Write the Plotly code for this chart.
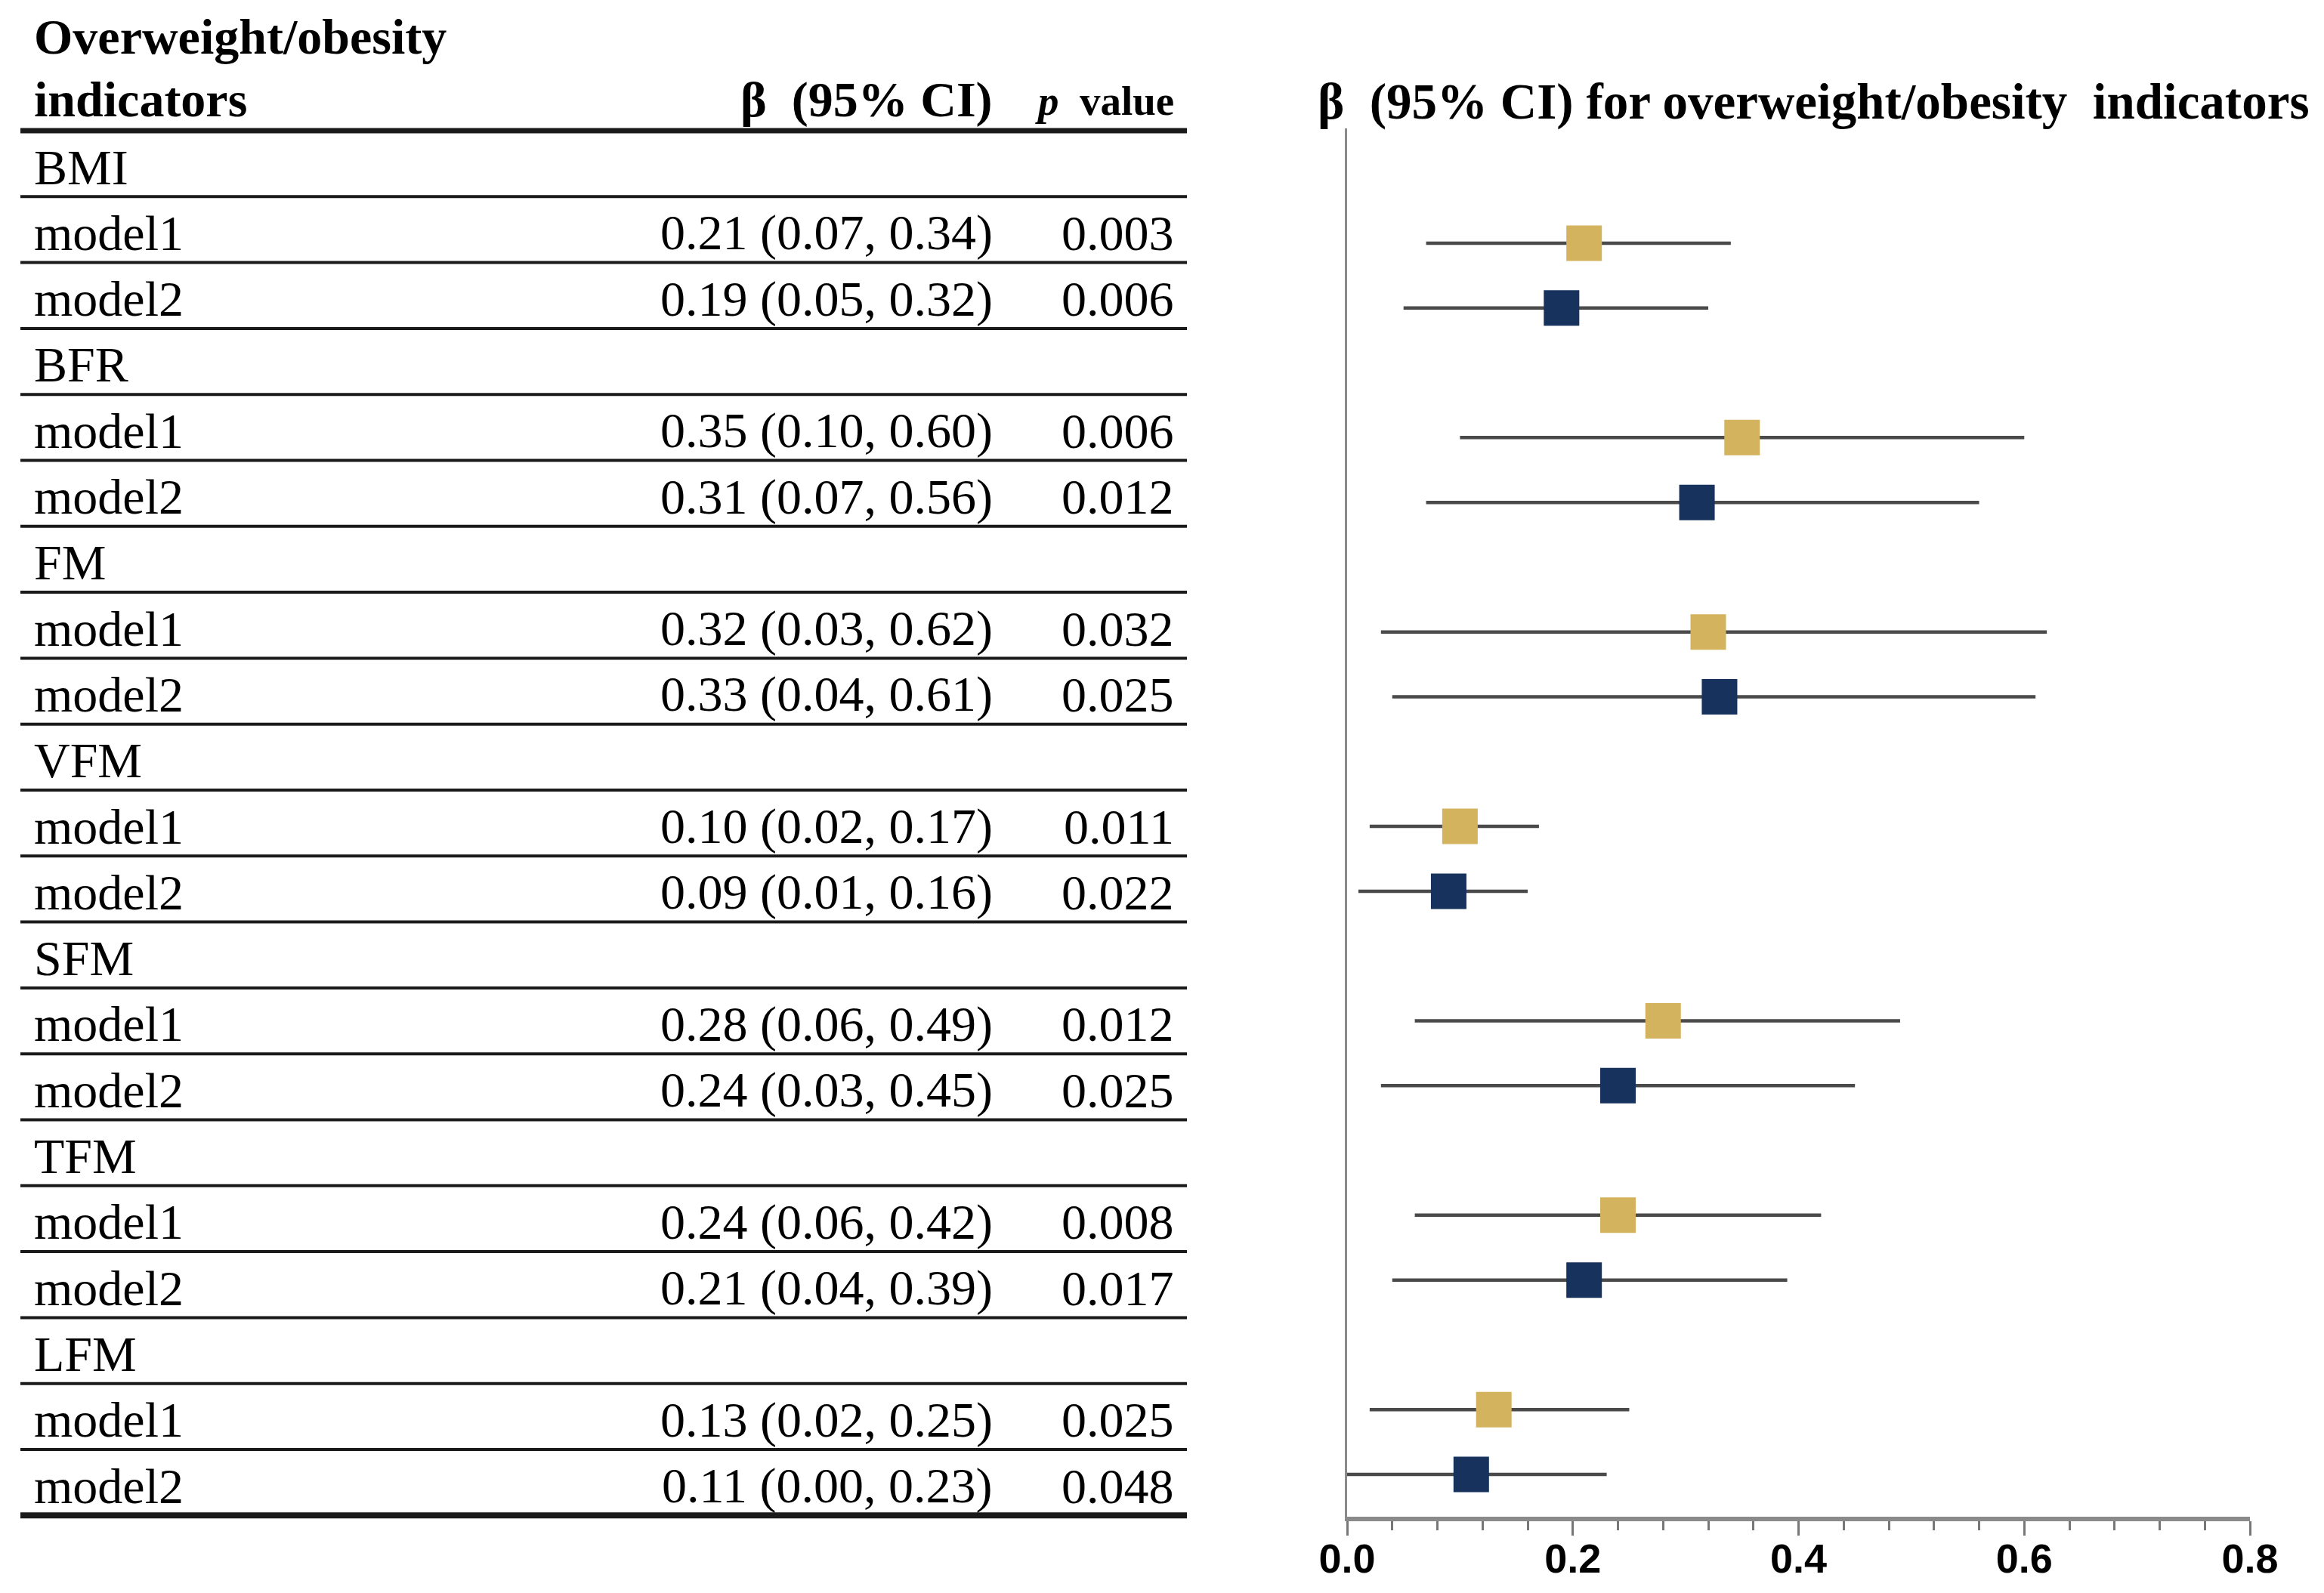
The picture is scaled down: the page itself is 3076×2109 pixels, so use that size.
import plotly.graph_objects as go

# ---------------- data ----------------
groups = ["BMI", "BFR", "FM", "VFM", "SFM", "TFM", "LFM"]
beta_m1 = [0.21, 0.35, 0.32, 0.10, 0.28, 0.24, 0.13]
lo_m1 = [0.07, 0.10, 0.03, 0.02, 0.06, 0.06, 0.02]
hi_m1 = [0.34, 0.60, 0.62, 0.17, 0.49, 0.42, 0.25]
p_m1 = ["0.003", "0.006", "0.032", "0.011", "0.012", "0.008", "0.025"]
beta_m2 = [0.19, 0.31, 0.33, 0.09, 0.24, 0.21, 0.11]
lo_m2 = [0.05, 0.07, 0.04, 0.01, 0.03, 0.04, 0.00]
hi_m2 = [0.32, 0.56, 0.61, 0.16, 0.45, 0.39, 0.23]
p_m2 = ["0.006", "0.012", "0.025", "0.022", "0.025", "0.017", "0.048"]
model_names = ["model1", "model2"]
x_ticks = [0.0, 0.2, 0.4, 0.6, 0.8]

# ---------------- layout constants ----------------
W, H = 3076, 2109
OFF = 8  # page body margin compensation
SERIF = "Liberation Serif, Times New Roman, serif"
SANS = "Liberation Sans Narrow, Liberation Sans, Arial, sans-serif"
FS = 66
C1 = "#D4B35E"
C2 = "#17325C"
CI_COL = "#4a4a4a"

# forest axis pixel geometry (target page pixels)
fx0, fx1 = 1783 - OFF, 2978 - OFF
fy_top, fy_bot = 170 - OFF, 2008 - OFF
row1_px, row20_px = 322 - OFF, 1952 - OFF
rstep = (row20_px - row1_px) / 19.0
r_top = 1 + (fy_top - row1_px) / rstep
r_bot = 1 + (fy_bot - row1_px) / rstep

# table geometry (rows in row units)
t_head_px, t_row = 173 - OFF, 87.3
t_r0 = -0.5 - t_head_px / t_row
t_r1 = -0.5 + (H - t_head_px) / t_row
col_label, col_beta, col_p = 43, 1316, 1556
t_left, t_right = 27, 1571
TXT_DY = 0.05  # text sits slightly below the row centre

rows_m1 = [3 * g + 1 for g in range(len(groups))]
rows_m2 = [3 * g + 2 for g in range(len(groups))]

fig = go.Figure()

for name, beta, lo, hi, rows, col in [
    (model_names[0], beta_m1, lo_m1, hi_m1, rows_m1, C1),
    (model_names[1], beta_m2, lo_m2, hi_m2, rows_m2, C2),
]:
    fig.add_trace(go.Scatter(
        x=beta, y=rows, mode="markers", name=name,
        marker=dict(symbol="square", size=47, color=col, line=dict(width=0)),
        error_x=dict(type="data", symmetric=False,
                     array=[h - b for h, b in zip(hi, beta)],
                     arrayminus=[b - l for b, l in zip(beta, lo)],
                     color=CI_COL, thickness=4.5, width=0),
        showlegend=False, xaxis="x", yaxis="y",
    ))

# ---------------- table ----------------
ann = []
shapes = []

def cell(x, r, text, anchor, bold=False, size=FS):
    ann.append(dict(x=x, y=r, xref="x2", yref="y2", text=text, showarrow=False,
                    xanchor=anchor, yanchor="middle",
                    font=dict(family=SERIF, size=size, color="black",
                              weight="bold" if bold else "normal")))

for g, grp in enumerate(groups):
    cell(col_label, 3 * g + TXT_DY, grp, "left")
    for k, (beta, lo, hi, pv) in enumerate([(beta_m1, lo_m1, hi_m1, p_m1),
                                            (beta_m2, lo_m2, hi_m2, p_m2)]):
        r = 3 * g + 1 + k + TXT_DY
        cell(col_label, r, model_names[k], "left")
        cell(col_beta, r, f"{beta[g]:.2f} ({lo[g]:.2f}, {hi[g]:.2f})", "right")
        cell(col_p, r, pv[g], "right")

# header rows (row units above the first data row)
cell(col_label, -1.93, "Overweight/obesity", "left", bold=True)
cell(col_label, -0.97, "indicators", "left", bold=True)
cell(col_beta, -0.97, "β\u00a0 (95% CI)", "right", bold=True)
cell(col_p, -0.95, "<i>p</i>\u00a0 value", "right", bold=True, size=55)

n_rows = 3 * len(groups)
for i in range(n_rows + 1):
    yb = i - 0.5
    w = 7 if i == 0 else (8 if i == n_rows else 4)
    shapes.append(dict(type="line", xref="x2", yref="y2", x0=t_left, x1=t_right,
                       y0=yb, y1=yb, line=dict(color="#1a1a1a", width=w)))

# forest title
ann.append(dict(x=(2400 - OFF) / W, y=1 - (134 - OFF) / H, xref="paper", yref="paper",
                text="β\u00a0 (95% CI) for overweight/obesity\u00a0 indicators",
                showarrow=False, xanchor="center", yanchor="middle",
                font=dict(family=SERIF, size=67, color="black", weight="bold")))

fig.update_layout(
    template="none",
    width=W, height=H, margin=dict(l=0, r=0, t=0, b=0, autoexpand=False),
    paper_bgcolor="white", plot_bgcolor="rgba(0,0,0,0)",
    annotations=ann, shapes=shapes, showlegend=False,
    xaxis=dict(domain=[fx0 / W, fx1 / W], range=[0, 0.8], showgrid=False, zeroline=False,
               showline=True, linecolor="#8a8a8a", linewidth=6, automargin=False,
               tickmode="array", tickvals=x_ticks, tickformat=".1f",
               ticks="outside", ticklen=19, tickwidth=3, tickcolor="#777777",
               ticklabelstandoff=-16,
               tickfont=dict(family=SANS, size=54, color="black", weight="bold"),
               minor=dict(dtick=0.04, ticks="outside", ticklen=12, tickwidth=3,
                          tickcolor="#777777", showgrid=False),
               fixedrange=True),
    yaxis=dict(domain=[1 - fy_bot / H, 1 - fy_top / H], range=[r_bot, r_top],
               showgrid=False, zeroline=False, showticklabels=False, ticks="",
               automargin=False,
               showline=True, linecolor="#8a8a8a", linewidth=3, fixedrange=True),
    xaxis2=dict(domain=[0, 1], range=[OFF, W + OFF], visible=False, anchor="y2", automargin=False),
    yaxis2=dict(domain=[0, 1], range=[t_r1, t_r0], visible=False, anchor="x2", automargin=False),
)

fig.write_html("out.html")
